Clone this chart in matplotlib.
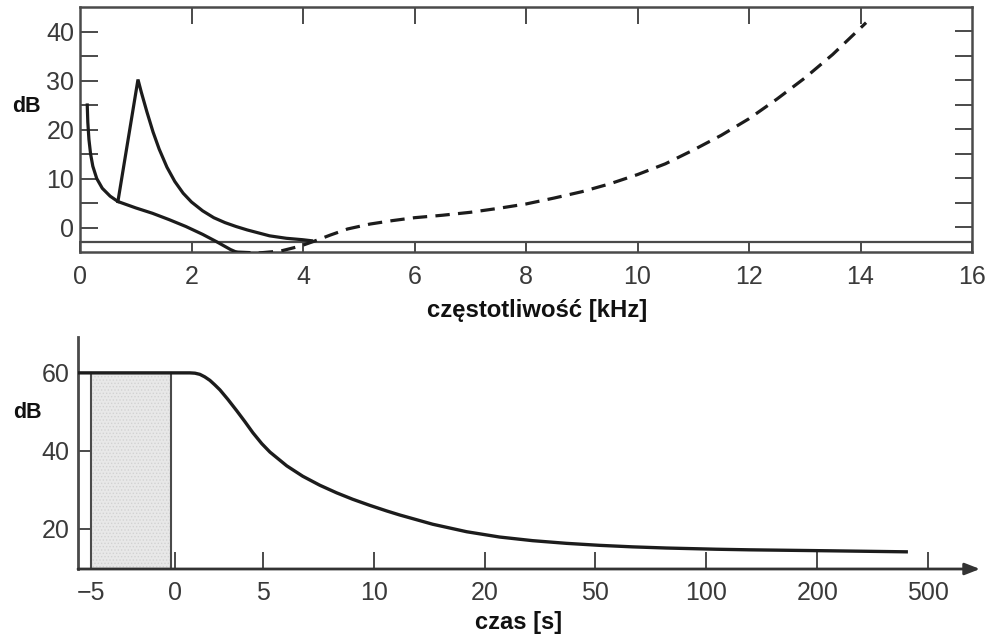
import numpy as np
import matplotlib
matplotlib.use("Agg")
import matplotlib.pyplot as plt

plt.rcParams['font.family'] = ['Liberation Sans', 'DejaVu Sans']
plt.rcParams['hatch.linewidth'] = 0.6

# ---------------- data: top panel (frequency) ----------------
low_f = [0.13, 0.14, 0.16, 0.19, 0.23, 0.30, 0.40, 0.54, 0.68, 1.0, 1.3, 1.6, 1.9, 2.2, 2.45, 2.7, 2.8]
low_db = [25.0, 21.5, 18.0, 15.0, 12.5, 10.0, 8.0, 6.4, 5.3, 4.0, 2.9, 1.6, 0.2, -1.4, -2.9, -4.5, -5.0]

peak_f = [0.68, 1.04, 1.10, 1.20, 1.31, 1.42, 1.56, 1.70, 1.85, 2.0, 2.2, 2.4, 2.6, 2.8,
          3.0, 3.2, 3.4, 3.7, 4.0, 4.15]
peak_db = [5.3, 30.2, 27.6, 23.6, 19.5, 16.0, 12.3, 9.4, 7.0, 5.2, 3.4, 2.0, 1.0, 0.2,
           -0.5, -1.1, -1.7, -2.2, -2.5, -2.7]

dash_f = [2.8, 3.2, 3.6, 3.95, 4.2, 4.5, 4.8, 5.2, 5.6, 6.0, 6.5, 7.0, 7.5, 8.0, 8.5,
          9.0, 9.5, 10.0, 10.5, 11.0, 11.5, 12.0, 12.5, 13.0, 13.5, 14.1]
dash_db = [-5.0, -5.2, -4.8, -3.8, -2.8, -1.5, -0.3, 0.7, 1.4, 2.0, 2.5, 3.1, 3.9, 4.8, 6.0,
           7.3, 8.9, 10.8, 13.0, 15.8, 18.8, 22.2, 26.2, 30.5, 35.3, 41.8]

ref_level = -3.0
freq_ticks = [0, 2, 4, 6, 8, 10, 12, 14, 16]
db_ticks_top = [0, 10, 20, 30, 40]

# ---------------- data: bottom panel (time) ----------------
time_s = [-5.77, -3, 0, 0.85, 1.14, 1.42, 1.70, 1.99, 2.27, 2.56, 3.01, 3.52, 3.98, 4.43,
          4.94, 5.32, 6.08, 6.80, 7.57, 8.33, 9.05, 9.82, 11.17, 12.34, 15.32, 18.38,
          24.05, 32.97, 42.16, 51.8, 66.67, 81.98, 109.0, 138.7, 240.9, 445.5]
level_db = [60, 60, 60, 60, 59.92, 59.62, 58.97, 58.08, 56.92, 55.64, 53.21, 50.26, 47.49,
            44.67, 41.85, 39.69, 36.15, 33.49, 31.18, 29.23, 27.59, 26.03, 24.59, 23.56,
            21.18, 19.26, 17.90, 16.97, 16.28, 15.77, 15.38, 15.08, 14.77, 14.62, 14.36, 14.10]
noise_start, noise_end, noise_level = -5.0, -0.25, 60.0
time_ticks = [-5, 0, 5, 10, 20, 50, 100, 200, 500]
time_labels = ['\u22125', '0', '5', '10', '20', '50', '100', '200', '500']
db_ticks_bottom = [20, 40, 60]

# custom piecewise time axis (equal spacing for the compressed part)
T_KN = np.array([-5, 0, 5, 10, 20, 50, 100, 200, 500], dtype=float)
U_KN = np.array([-1.55, -0.793, 0, 1, 2, 3, 4, 5, 6], dtype=float)


def fwd(t):
    t = np.asarray(t, dtype=float)
    u = np.interp(t, T_KN, U_KN)
    sl = (U_KN[1] - U_KN[0]) / (T_KN[1] - T_KN[0])
    sr = (U_KN[-1] - U_KN[-2]) / (T_KN[-1] - T_KN[-2])
    u = np.where(t < T_KN[0], U_KN[0] + (t - T_KN[0]) * sl, u)
    u = np.where(t > T_KN[-1], U_KN[-1] + (t - T_KN[-1]) * sr, u)
    return u


def inv(u):
    u = np.asarray(u, dtype=float)
    t = np.interp(u, U_KN, T_KN)
    sl = (T_KN[1] - T_KN[0]) / (U_KN[1] - U_KN[0])
    sr = (T_KN[-1] - T_KN[-2]) / (U_KN[-1] - U_KN[-2])
    t = np.where(u < U_KN[0], T_KN[0] + (u - U_KN[0]) * sl, t)
    t = np.where(u > U_KN[-1], T_KN[-1] + (u - U_KN[-1]) * sr, t)
    return t


W, H = 989, 636
fig = plt.figure(figsize=(W / 100, H / 100), dpi=100)
fig.patch.set_facecolor('white')

ink = '#1c1c1c'
axc = '#4a4a4a'
lab = '#3a3a3a'
tick_fs = 18

# ---------------- top panel ----------------
ax1 = fig.add_axes([80 / W, 1 - 252 / H, (972 - 80) / W, (252 - 7) / H])
ax1.set_xlim(0, 16)
ax1.set_ylim(-5, 45)
for s in ax1.spines.values():
    s.set_color(axc)
    s.set_linewidth(1.8)

ax1.axhline(ref_level, color=axc, lw=1.6, zorder=2)
ax1.plot(low_f, low_db, color=ink, lw=2.3, solid_joinstyle='round', zorder=3)
ax1.plot(peak_f, peak_db, color=ink, lw=2.3, solid_joinstyle='miter', zorder=3)
ax1.plot(dash_f, dash_db, color=ink, lw=2.3, dashes=(4.5, 2.6), zorder=3)

ax1.set_xticks(freq_ticks)
ax1.set_xticklabels([str(v) for v in freq_ticks])
ax1.set_yticks(db_ticks_top)
ax1.set_yticks([5, 15, 25, 35], minor=True)
ax1.tick_params(axis='x', which='major', direction='in', length=8, width=1.4,
                color=axc, labelsize=tick_fs, labelcolor=lab, pad=9)
ax1.tick_params(axis='y', which='both', direction='in', length=13, width=1.4,
                color=axc, labelsize=tick_fs, labelcolor=lab, pad=4)

sec_top = ax1.secondary_xaxis('top')
sec_top.set_xticks([2, 4, 6, 8, 10, 12, 14])
sec_top.tick_params(direction='in', length=12, width=1.4, color=axc, labeltop=False)
sec_top.spines['top'].set_visible(False)
sec_right = ax1.secondary_yaxis('right')
sec_right.set_yticks([0, 5, 10, 15, 20, 25, 30, 35, 40])
sec_right.tick_params(direction='in', length=12, width=1.4, color=axc, labelright=False)
sec_right.spines['right'].set_visible(False)

fig.text(537 / W, 1 - 310 / H, 'częstotliwość [kHz]', ha='center', va='center',
         fontsize=17.2, fontweight='bold', color='#111111')
fig.text(26 / W, 1 - 107 / H, 'dB', ha='center', va='center',
         fontsize=15.5, fontweight='bold', color='#111111')

# ---------------- bottom panel ----------------
ax2 = fig.add_axes([78 / W, 1 - 569 / H, (980 - 78) / W, (569 - 337) / H])
ax2.set_xscale('function', functions=(fwd, inv))
u_left = -1.55 - (91 - 78) / 111
u_right = 6 + (980 - 928) / 111
ax2.set_xlim(float(inv(u_left)), float(inv(u_right)))
ax2.set_ylim(9.7, 69.2)

for k in ['top', 'right', 'bottom']:
    ax2.spines[k].set_visible(False)
ax2.spines['left'].set_color(axc)
ax2.spines['left'].set_linewidth(2.0)

ax2.annotate('', xy=(1, 0), xytext=(0, 0), xycoords='axes fraction',
             arrowprops=dict(arrowstyle='-|>,head_length=0.9,head_width=0.35',
                             color='#333333', lw=2.0, shrinkA=0, shrinkB=0),
             annotation_clip=False)

ax2.fill_between([noise_start, noise_end], 9.7, noise_level, facecolor='#e8e8e8',
                 edgecolor='#d2d2d2', hatch='.....', lw=0, zorder=1)
ax2.plot([noise_start, noise_start], [9.7, noise_level], color=axc, lw=1.5, zorder=2)
ax2.plot([noise_end, noise_end], [9.7, noise_level], color=axc, lw=1.5, zorder=2)

ax2.plot(time_s, level_db, color=ink, lw=2.4, zorder=3, solid_capstyle='butt',
         solid_joinstyle='round')

ax2.set_xticks(time_ticks)
ax2.set_xticklabels(time_labels)
ax2.xaxis.set_minor_locator(matplotlib.ticker.NullLocator())
ax2.set_yticks(db_ticks_bottom)
ax2.tick_params(axis='x', direction='in', length=12, width=1.4, color=axc,
                labelsize=tick_fs, labelcolor=lab, pad=9)
ax2.tick_params(axis='y', direction='in', length=10, width=1.4, color=axc,
                labelsize=tick_fs, labelcolor=lab, pad=6)

fig.text(519 / W, 1 - 623 / H, 'czas [s]', ha='center', va='center',
         fontsize=17, fontweight='bold', color='#111111')
fig.text(27 / W, 1 - 412 / H, 'dB', ha='center', va='center',
         fontsize=15.5, fontweight='bold', color='#111111')

fig.savefig('out.png', dpi=100, facecolor='white')
